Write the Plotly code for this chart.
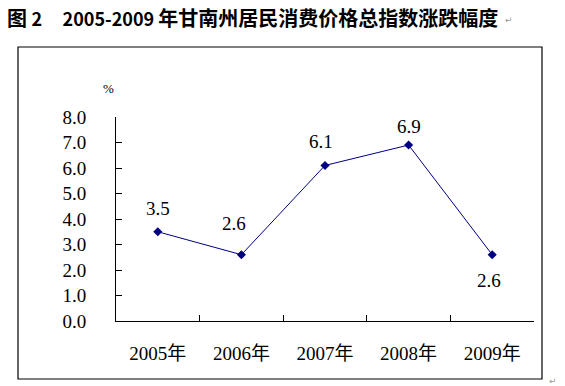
import plotly.graph_objects as go

years = ["2005年", "2006年", "2007年", "2008年", "2009年"]
values = [3.5, 2.6, 6.1, 6.9, 2.6]
y_ticks = [0, 1, 2, 3, 4, 5, 6, 7, 8]
title_cjk = "图"
title_num = "2"
title_years = "2005-2009"
title_rest = "年甘南州居民消费价格总指数涨跌幅度"
unit_text = "%"

# label placement (styles, not data)
label_yshift = [23, 31, 24, 19, -26]
label_xshift = [0, -7, -4, 0, -3]

W, H = 565, 386
L, R, T, B = 116, 31, 117, 65
pw, ph = W - L - R, H - T - B


def px_x(x):
    return (x - L) / pw


def px_y(y):
    return (H - B - y) / ph


serif = "Liberation Serif, Noto Sans CJK SC, serif"
navy = "#000080"
nb = "\u00a0"

fig = go.Figure()
fig.add_trace(go.Scatter(
    x=years, y=values, mode="lines+markers",
    line=dict(color=navy, width=1),
    marker=dict(symbol="diamond", size=7, color=navy),
    hoverinfo="skip", showlegend=False,
))

annotations = []
for i, (c, v) in enumerate(zip(years, values)):
    annotations.append(dict(
        x=c, y=v, xref="x", yref="y", text=f"{v:.1f}", showarrow=False,
        xanchor="center", yanchor="middle",
        yshift=label_yshift[i], xshift=label_xshift[i],
        font=dict(family=serif, size=19, color="black"),
    ))

annotations.append(dict(
    x=px_x(108), y=px_y(88), xref="paper", yref="paper", text=unit_text,
    showarrow=False, xanchor="center", yanchor="middle",
    font=dict(family=serif, size=13, color="black"),
))
title_html = (
    f"{title_cjk}{nb}<span style='font-size:18px'>{title_num}{nb*5}{title_years}{nb}</span>{title_rest}"
)
annotations.append(dict(
    x=px_x(5), y=px_y(17), xref="paper", yref="paper", text=title_html,
    showarrow=False, xanchor="left", yanchor="middle",
    font=dict(family="Noto Sans CJK SC", size=20, color="black", weight="bold"),
))
for (ax, ay) in [(509, 20), (553, 381)]:
    annotations.append(dict(
        x=px_x(ax), y=px_y(ay), xref="paper", yref="paper", text="↵",
        showarrow=False, xanchor="center", yanchor="middle",
        font=dict(family="DejaVu Sans", size=9, color="#999999"),
    ))

fig.update_layout(
    width=W, height=H,
    margin=dict(l=L, r=R, t=T, b=B, pad=0),
    paper_bgcolor="white", plot_bgcolor="white",
    annotations=annotations,
    shapes=[dict(
        type="rect", xref="paper", yref="paper",
        x0=px_x(18), x1=px_x(542), y0=px_y(379), y1=px_y(47),
        line=dict(color="black", width=1.2), fillcolor="rgba(0,0,0,0)",
    )],
)
fig.update_xaxes(
    type="category", range=[-0.5, 4.5], showline=True, linecolor="black", linewidth=1,
    ticks="inside", ticklen=6, tickcolor="black", tickson="boundaries",
    showgrid=False, zeroline=False, ticklabelstandoff=15,
    tickfont=dict(family=serif, size=19, color="black"),
)
fig.update_yaxes(
    range=[0, 8], tickvals=y_ticks, tickformat=".1f", showline=True,
    linecolor="black", linewidth=1, ticks="inside", ticklen=6, tickcolor="black",
    showgrid=False, zeroline=False, ticklabelstandoff=25,
    tickfont=dict(family=serif, size=19, color="black"),
)

fig.write_html(
    "out.html",
    config={"displayModeBar": False},
    post_script="document.body.style.margin='0';",
)
